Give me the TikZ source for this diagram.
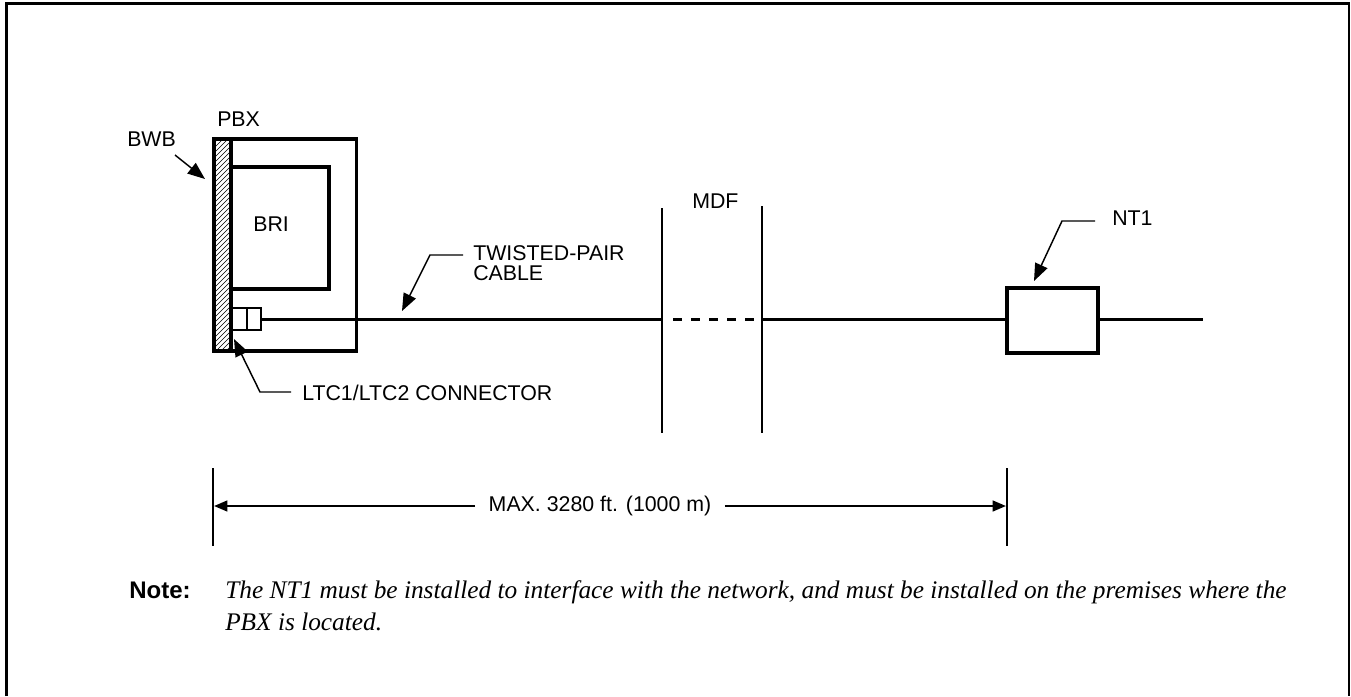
\documentclass[tikz,border=0pt]{standalone}
\usepackage{fontspec}
\setmainfont{Liberation Serif}
\setsansfont{Liberation Sans}
\usetikzlibrary{arrows.meta,fit,calc}
\begin{document}
\begin{tikzpicture}[x=0.75pt,y=-0.75pt,
  lbl/.style={font=\sffamily\fontsize{16}{14.5}\selectfont, inner sep=0pt, anchor=base west},
  box/.style={draw, line width=2.6pt, inner sep=0pt},
  wire/.style={line width=1.7pt},
  lead/.style={line width=1.1pt},
  tiparrow/.style={lead, -{Triangle[length=13pt,width=10pt]}},
  dimtip/.style={line width=1.7pt, -{Triangle[length=10pt,width=8pt]}},
  vline/.style={line width=2pt},
  dimline/.style={line width=1.5pt}
]
\useasboundingbox (0,0) rectangle (1351,696);
% frame
\coordinate (frBL) at (6.5,696);
\coordinate (frTL) at (6.5,3.5);
\coordinate (frTR) at (1349,3.5);
\coordinate (frBR) at (1349,696);
\draw[line width=2pt] (frBL) -- (frTL) -- (frTR) -- (frBR);

% hatched BWB strip
\begin{scope}
  \clip (214,139) rectangle (231,351);
  \foreach \i in {0,...,48} {
    \draw[line width=0.5pt] (214,{143+\i*5}) -- ++(17,-17);
  }
\end{scope}
\node[box, fit={(214,139) (231,351)}] (bwb) {};
% PBX box
\node[box, fit={(214,139) (356.5,351)}] (pbx) {};
% BRI box
\node[box, fit={(231,167) (329,289)}] (bri) {};
% connector
\node[box, line width=2.2pt, fit={(232,308) (261,330)}] (conn) {};
\coordinate (divT) at (246.7,308);
\coordinate (divB) at (246.7,330);
\draw[line width=1.8pt] (divT) -- (divB);

% MDF lines
\coordinate (mdfAt) at (662,208);
\coordinate (mdfAb) at (662,433);
\coordinate (mdfBt) at (762,206);
\coordinate (mdfBb) at (762,433);
\draw[vline] (mdfAt) -- (mdfAb);
\draw[vline] (mdfBt) -- (mdfBb);

% NT1 box
\node[box, fit={(1007,288) (1098,353)}] (nt1) {};

% cable
\coordinate (cabA) at (662,319.5);
\coordinate (cabB) at (762,319.5);
\coordinate (cabEnd) at (1203,319.5);
\coordinate (dashS) at (673,319.5);
\coordinate (dashE) at (756,319.5);
\draw[wire] (conn.east |- cabA) -- (cabA);
\draw[wire, dash pattern=on 6.4pt off 7.1pt] (dashS) -- (dashE);
\draw[wire] (cabB) -- (nt1.west |- cabB);
\draw[wire] (nt1.east |- cabEnd) -- (cabEnd);

% labels
\node[lbl] (pbxl) at (217,126) {PBX};
\node[lbl] (bwbl) at (127,146) {BWB};
\node[lbl] (bril) at (253,231) {BRI};
\node[lbl] (mdfl) at (692,208) {MDF};
\node[lbl, align=left] (tpl) at (473,280) {TWISTED-PAIR\\CABLE};
\node[lbl] (nt1l) at (1112,225) {NT1};
\node[lbl] (ltcl) at (302,400.5) {LTC1/LTC2 CONNECTOR};

% leaders
\coordinate (bwbS) at (175,155);
\coordinate (bwbT) at (205,179);
\draw[tiparrow] (bwbS) -- (bwbT);

\coordinate (tpS) at (463,255);
\coordinate (tpK) at (430,255);
\coordinate (tpT) at (402,311);
\draw[tiparrow] (tpS) -- (tpK) -- (tpT);

\coordinate (ntS) at (1095,221);
\coordinate (ntK) at (1062,221);
\coordinate (ntT) at (1034,281);
\draw[tiparrow] (ntS) -- (ntK) -- (ntT);

\coordinate (ltS) at (291,392);
\coordinate (ltK) at (260,392);
\coordinate (ltT) at (234,339);
\draw[tiparrow] (ltS) -- (ltK) -- (ltT);

% dimension
\coordinate (dLt) at (213,468);
\coordinate (dLb) at (213,546);
\coordinate (dRt) at (1007,468);
\coordinate (dRb) at (1007,546);
\draw[dimline] (dLt) -- (dLb);
\draw[dimline] (dRt) -- (dRb);
\coordinate (dL) at (214,506);
\coordinate (dR) at (1006,506);
\node[font=\sffamily\fontsize{16}{16}\selectfont, inner xsep=10pt, inner ysep=0pt] (maxl) at (600,506) {MAX. 3280 ft. (1000 m)};
\draw[dimtip] (maxl.west) -- (dL);
\draw[dimtip] (maxl.east) -- (dR);

% note
\node[font=\sffamily\bfseries\fontsize{18}{20}\selectfont, inner sep=0pt, anchor=base west] (notel) at (129,598) {Note:};
\node[font=\itshape\fontsize{19}{24}\selectfont, inner sep=0pt, anchor=base west, align=left] (notet) at (225,630) {The NT1 must be installed to interface with the network, and must be installed on the premises where the\\PBX is located.};
\end{tikzpicture}
\end{document}
